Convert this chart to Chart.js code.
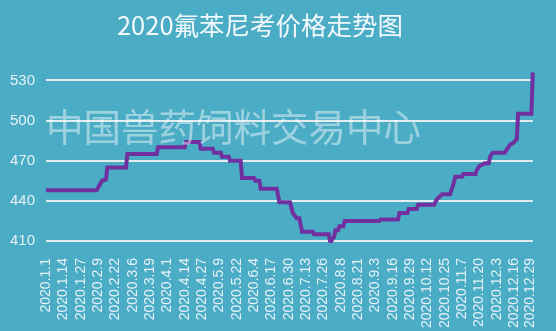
<!DOCTYPE html>
<html>
<head>
<meta charset="utf-8">
<script src="https://cdn.jsdelivr.net/npm/chart.js@4.4.1/dist/chart.umd.min.js"></script>
<style>
    html, body { margin: 0; padding: 0; background: #4bacc6; }
    #wrap { width: 556px; height: 331px; }
</style>
</head>
<body>
<div id="wrap"><canvas id="chart" width="556" height="331"></canvas></div>
<script>
const chartTitle = '2020氟苯尼考价格走势图';
const watermark = '中国兽药饲料交易中心';

// day of year (0 = 2020.1.1) where the price changes, and the price there
const days = [0, 38, 42, 45, 46, 60, 61, 83, 84, 104, 105, 115, 116, 125, 126, 131, 132, 137, 138, 146,
    147, 156, 157, 160, 161, 173, 175, 183, 185, 188, 190, 192, 200, 201, 212, 213, 214, 215, 216, 217,
    219, 220, 223, 224, 250, 251, 264, 265, 271, 272, 278, 279, 291, 293, 297, 303, 305, 307, 312, 313,
    322, 323, 325, 329, 332, 333, 335, 344, 346, 348, 350, 352, 353, 354, 364, 365];
const prices = [448, 448, 455, 456, 465, 465, 475, 475, 480, 480, 484, 484, 479, 479, 476, 476, 473, 473, 470, 470,
    457, 457, 455, 455, 449, 449, 439, 439, 431, 427, 427, 417, 417, 415, 415, 410, 410, 412, 413, 418,
    418, 421, 421, 425, 425, 426, 426, 431, 431, 434, 434, 437, 437, 441, 445, 445, 451, 458, 458, 460,
    460, 463, 466, 468, 468, 473, 476, 476, 479, 482, 483, 485, 486, 505, 505, 536];

const tickDays = [0, 13, 26, 39, 52, 65, 78, 91, 104, 117, 130, 143, 156, 169, 182, 195, 208, 221,
    234, 247, 260, 273, 286, 299, 312, 325, 338, 351, 363];
const tickLabels = ['2020.1.1', '2020.1.14', '2020.1.27', '2020.2.9', '2020.2.22', '2020.3.6', '2020.3.19',
    '2020.4.1', '2020.4.14', '2020.4.27', '2020.5.9', '2020.5.22', '2020.6.4', '2020.6.17', '2020.6.30',
    '2020.7.13', '2020.7.26', '2020.8.8', '2020.8.21', '2020.9.3', '2020.9.16', '2020.9.29', '2020.10.12',
    '2020.10.25', '2020.11.7', '2020.11.20', '2020.12.3', '2020.12.16', '2020.12.29'];
const yTicks = [410, 440, 470, 500, 530];

const points = days.map((d, i) => ({ x: d, y: prices[i] }));

const bgPlugin = {
    id: 'bg',
    beforeDraw(chart) {
        const ctx = chart.ctx;
        ctx.save();
        ctx.fillStyle = '#4bacc6';
        ctx.fillRect(0, 0, chart.width, chart.height);
        // title, a bit left of centre like the original
        ctx.font = '25.5px "Noto Sans CJK SC"';
        ctx.fillStyle = '#f2f9fc';
        ctx.textAlign = 'center';
        ctx.textBaseline = 'middle';
        ctx.fillText(chartTitle, 260, 25);
        ctx.restore();
    }
};

const markPlugin = {
    id: 'mark',
    afterDatasetsDraw(chart) {
        const ctx = chart.ctx;
        ctx.save();
        ctx.font = '37.5px "Noto Sans CJK SC"';
        ctx.fillStyle = 'rgba(255, 255, 255, 0.45)';
        ctx.textBaseline = 'middle';
        ctx.textAlign = 'left';
        ctx.fillText(watermark, 46, 127);
        ctx.restore();
    }
};

new Chart(document.getElementById('chart'), {
    type: 'line',
    data: {
        datasets: [{
            data: points,
            borderColor: '#7030a0',
            borderWidth: 4,
            pointRadius: 0,
            tension: 0,
            fill: false,
            clip: false
        }]
    },
    options: {
        responsive: false,
        animation: false,
        layout: { padding: { left: 0, right: 18, top: 67, bottom: 0 } },
        plugins: {
            legend: { display: false },
            tooltip: { enabled: false }
        },
        scales: {
            x: {
                type: 'linear',
                min: 0,
                max: 365,
                grid: { display: false },
                border: { display: false },
                afterBuildTicks: scale => { scale.ticks = tickDays.map(v => ({ value: v })); },
                afterFit: scale => { scale.height = 90; },
                ticks: {
                    autoSkip: false,
                    minRotation: 90,
                    maxRotation: 90,
                    padding: 9,
                    color: '#e6f2f7',
                    font: { family: '"Liberation Sans"', size: 14 },
                    callback: (value, index) => tickLabels[index]
                }
            },
            y: {
                min: 410,
                max: 540,
                grid: { color: '#e3edf0', lineWidth: 2, drawTicks: false },
                border: { display: false },
                afterBuildTicks: scale => { scale.ticks = yTicks.map(v => ({ value: v })); },
                afterFit: scale => { scale.width = 46; },
                ticks: {
                    padding: 11,
                    color: '#e6f2f7',
                    font: { family: '"Liberation Sans"', size: 15 }
                }
            }
        }
    },
    plugins: [bgPlugin, markPlugin]
});
</script>
</body>
</html>
